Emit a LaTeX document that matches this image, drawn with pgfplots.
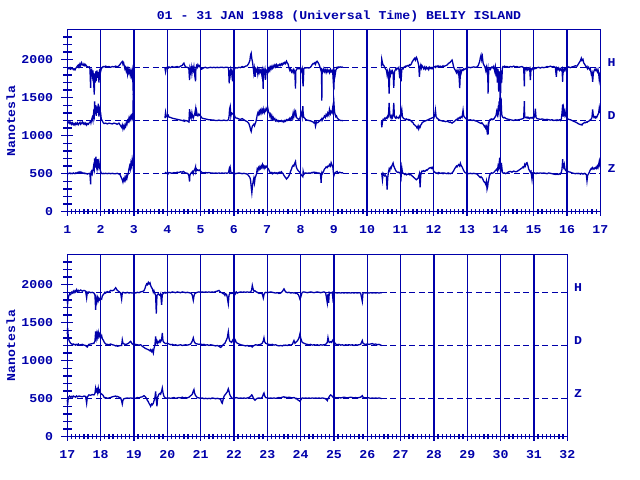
\documentclass[border=0pt]{standalone}
\usepackage{pgfplots}
\pgfplotsset{compat=1.18}
\usepackage{pgfplotstable}
\usepackage{fontspec}
\setmainfont{Liberation Mono}[FakeStretch=1.1]
\definecolor{ega}{RGB}{0,0,170}
\newcommand{\lab}{\fontsize{12bp}{14bp}\selectfont\bfseries}

\pgfplotstableread{
t H D Z
1.00 1885 1180 505
1.03 1890 1170 500
1.05 1880 1185 505
1.08 1895 1160 510
1.10 1875 1175 500
1.13 1885 1150 505
1.15 1890 1170 500
1.18 1870 1145 510
1.20 1880 1160 505
1.23 1865 1140 500
1.25 1885 1165 510
1.28 1900 1150 505
1.30 1915 1170 515
1.33 1930 1145 520
1.35 1905 1160 510
1.38 1945 1175 525
1.40 1920 1150 515
1.43 1960 1165 520
1.45 1935 1180 510
1.48 1925 1155 505
1.50 1945 1170 510
1.53 1920 1150 500
1.55 1935 1165 505
1.58 1915 1140 500
1.60 1910 1160 495
1.63 1900 1150 500
1.66 1905 1170 505
1.68 1880 1180 495
1.70 1630 1190 360
1.71 1860 1170 520
1.73 1870 1210 535
1.75 1790 1240 500
1.77 1860 1200 540
1.79 1700 1300 600
1.81 1540 1260 560
1.82 1820 1450 700
1.84 1700 1280 580
1.86 1850 1400 725
1.87 1720 1260 600
1.89 1860 1380 560
1.91 1760 1300 690
1.93 1840 1420 600
1.95 1700 1250 650
1.97 1860 1350 580
2.00 1840 1300 530
2.02 1880 1220 505
2.05 1900 1195 500
2.08 1910 1170 505
2.10 1905 1160 500
2.15 1915 1165 505
2.20 1905 1155 500
2.25 1910 1165 505
2.30 1900 1160 500
2.35 1910 1155 505
2.40 1905 1165 500
2.45 1915 1160 500
2.50 1905 1150 505
2.55 1920 1165 495
2.58 1935 1145 490
2.60 1950 1130 470
2.63 1965 1110 440
2.65 1975 1140 420
2.67 1940 1090 390
2.69 1960 1125 430
2.71 1920 1100 410
2.73 1880 1140 450
2.75 1900 1120 420
2.77 1850 1170 470
2.79 1880 1150 440
2.81 1810 1200 480
2.83 1870 1185 500
2.85 1830 1230 560
2.87 1860 1200 600
2.89 1800 1250 560
2.91 1850 1220 640
2.93 1790 1260 600
2.95 1850 1230 690
2.97 1700 1300 640
2.98 1540 1550 680
3.00 1800 1250 420
3.01 nan nan nan
3.93 1890 1230 510
3.95 1840 1305 515
3.97 1895 1250 505
4.00 1900 1260 510
4.03 1890 1270 500
4.05 1905 1245 515
4.10 1895 1240 510
4.15 1910 1230 505
4.20 1900 1225 515
4.25 1905 1220 510
4.30 1910 1215 520
4.35 1900 1210 515
4.40 1915 1205 525
4.45 1925 1200 520
4.48 1945 1195 530
4.50 1955 1205 525
4.52 1930 1190 515
4.55 1905 1200 510
4.60 1900 1195 505
4.63 1895 1185 495
4.65 1870 1180 470
4.67 1730 1350 395
4.68 1880 1240 480
4.70 1840 1280 500
4.72 1900 1240 510
4.74 1820 1300 520
4.76 1890 1250 530
4.78 1860 1230 500
4.80 1910 1260 540
4.83 1780 1300 560
4.85 1715 1350 590
4.86 1880 1260 530
4.88 1920 1320 560
4.90 1900 1270 545
4.92 1935 1260 550
4.95 1910 1285 540
4.98 1925 1265 550
5.00 1890 1260 535
5.03 1875 1240 520
5.05 1880 1230 515
5.10 1895 1225 510
5.15 1900 1220 515
5.20 1890 1215 510
5.25 1895 1210 515
5.30 1900 1210 510
5.35 1895 1205 510
5.40 1900 1205 505
5.45 1895 1200 510
5.50 1900 1200 505
5.55 1895 1205 510
5.60 1900 1200 505
5.65 1900 1200 510
5.70 1895 1205 505
5.75 1900 1200 510
5.80 1900 1200 505
5.84 1895 1210 515
5.86 1690 1270 560
5.87 1860 1350 540
5.89 1800 1385 580
5.91 1880 1260 520
5.93 1850 1300 515
5.96 1715 1290 510
5.98 1870 1280 505
6.00 1860 1300 500
6.03 1885 1250 505
6.05 1895 1235 500
6.10 1890 1230 505
6.15 1900 1220 510
6.20 1895 1215 505
6.25 1910 1225 500
6.30 1900 1210 505
6.35 1915 1195 500
6.40 1920 1185 495
6.43 1940 1170 480
6.45 1955 1160 470
6.48 1990 1120 450
6.50 2060 1080 420
6.52 2085 1055 330
6.54 2010 1100 250
6.56 1970 1130 340
6.58 1900 1140 400
6.60 1820 1150 440
6.62 1880 1130 380
6.64 1775 1160 450
6.66 1870 1180 470
6.68 1850 1220 500
6.70 1880 1270 560
6.72 1810 1300 540
6.74 1860 1280 580
6.76 1830 1320 560
6.78 1870 1290 590
6.80 1840 1330 570
6.82 1860 1300 600
6.84 1800 1340 580
6.86 1850 1310 620
6.88 1615 1350 590
6.89 1860 1320 600
6.91 1830 1300 570
6.93 1870 1340 595
6.95 1735 1325 580
6.97 1860 1360 600
7.00 1840 1330 585
7.02 1880 1360 570
7.04 1850 1310 560
7.06 1890 1300 540
7.08 1860 1260 520
7.10 1900 1280 510
7.12 1880 1230 505
7.14 1910 1260 515
7.16 1890 1220 500
7.18 1920 1240 510
7.20 1900 1210 505
7.23 1930 1225 515
7.25 1905 1195 505
7.28 1935 1210 510
7.30 1910 1190 500
7.33 1930 1200 515
7.35 1920 1185 505
7.38 1940 1195 520
7.40 1925 1190 510
7.43 1945 1200 525
7.45 1930 1185 510
7.48 1955 1195 500
7.50 1945 1180 480
7.53 1965 1200 460
7.55 1950 1190 450
7.58 1980 1210 430
7.60 1960 1200 440
7.63 1940 1215 455
7.65 1900 1205 470
7.68 1860 1230 500
7.70 1880 1210 530
7.73 1840 1240 560
7.75 1860 1220 590
7.78 1830 1300 610
7.80 1870 1250 600
7.83 1840 1320 640
7.85 1620 1280 660
7.86 1850 1300 620
7.88 1870 1240 580
7.90 1885 1230 560
7.93 1880 1220 540
7.95 1890 1215 530
7.98 1880 1225 520
8.00 1890 1260 500
8.03 1850 1300 480
8.05 1880 1250 470
8.07 1700 1390 460
8.08 1650 1300 530
8.10 1880 1240 490
8.13 1895 1230 505
8.15 1890 1215 510
8.20 1895 1205 505
8.25 1890 1200 510
8.30 1900 1195 505
8.33 1920 1190 515
8.35 1935 1185 510
8.38 1950 1180 520
8.40 1945 1170 515
8.43 1960 1185 520
8.45 1940 1125 510
8.48 1975 1180 515
8.50 1980 1170 510
8.53 1960 1175 505
8.55 1945 1185 510
8.58 1910 1195 505
8.60 1880 1205 500
8.62 1850 1215 380
8.63 1890 1210 490
8.64 1460 1220 510
8.65 1870 1200 495
8.68 1850 1225 520
8.70 1880 1240 540
8.72 1840 1260 560
8.75 1865 1240 575
8.77 1830 1280 590
8.80 1870 1260 580
8.82 1840 1300 600
8.85 1860 1270 595
8.87 1830 1345 620
8.90 1870 1290 600
8.92 1840 1320 645
8.95 1860 1300 610
8.97 1820 1380 590
9.00 1600 1455 470
9.02 1840 1320 500
9.04 1800 1280 510
9.06 1860 1250 520
9.08 1880 1260 525
9.10 1900 1235 530
9.12 1890 1225 515
9.15 1905 1210 510
9.18 1900 1205 520
9.20 1905 1200 515
9.25 1900 1200 510
9.28 1905 1195 515
9.30 nan nan nan
10.43 1910 1190 510
10.44 2005 1110 500
10.46 1960 1180 420
10.48 1930 1215 505
10.50 1925 1210 490
10.53 1900 1230 470
10.55 1880 1220 480
10.58 1860 1240 460
10.60 1800 1230 290
10.62 1850 1260 450
10.64 1820 1250 520
10.66 1555 1430 560
10.68 1840 1290 540
10.70 1800 1250 580
10.72 1850 1230 570
10.74 1830 1260 600
10.76 1850 1240 620
10.78 1820 1280 640
10.80 1630 1430 600
10.82 1840 1250 580
10.84 1860 1240 560
10.86 1880 1230 540
10.88 1870 1250 530
10.90 1890 1235 520
10.93 1880 1240 515
10.95 1895 1230 520
10.98 1755 1260 510
11.00 1880 1240 505
11.02 1716 1300 455
11.04 1870 1345 580
11.06 1890 1250 520
11.08 1880 1235 505
11.10 1900 1225 500
11.13 1905 1220 490
11.15 1915 1215 500
11.18 1910 1220 485
11.20 1920 1210 495
11.23 1925 1215 490
11.25 1915 1205 500
11.28 1935 1210 485
11.30 1930 1200 490
11.33 1945 1190 480
11.35 1970 1180 470
11.38 1990 1170 460
11.40 2005 1150 450
11.43 2020 1140 440
11.45 1995 1130 430
11.48 2030 1120 420
11.50 2010 1100 430
11.53 1960 1130 440
11.55 1920 1090 470
11.57 1775 1120 500
11.59 1900 1110 320
11.61 1930 1140 480
11.63 1890 1150 520
11.65 1920 1170 535
11.68 1900 1180 530
11.70 1880 1185 540
11.73 1905 1190 530
11.75 1875 1195 535
11.78 1900 1200 550
11.80 1880 1205 545
11.83 1895 1210 560
11.85 1870 1215 570
11.88 1900 1220 575
11.90 1885 1225 580
11.93 1895 1230 570
11.95 1880 1235 585
11.98 1900 1240 560
12.00 1905 1230 530
12.03 1910 1270 520
12.05 1900 1335 515
12.07 1915 1250 505
12.10 1905 1230 510
12.13 1920 1220 500
12.15 1910 1210 515
12.20 1915 1200 505
12.25 1905 1195 510
12.28 1920 1190 500
12.30 1910 1195 510
12.35 1920 1185 505
12.40 1930 1190 500
12.43 1945 1185 510
12.45 1955 1180 500
12.48 1960 1175 505
12.50 1970 1180 500
12.53 1985 1170 505
12.55 1995 1165 510
12.57 1960 1175 520
12.60 1900 1180 540
12.62 1880 1190 560
12.65 1860 1200 580
12.68 1830 1215 600
12.70 1860 1210 590
12.73 1820 1230 610
12.75 1850 1220 620
12.78 1625 1240 600
12.80 1850 1230 636
12.82 1820 1250 610
12.85 1870 1240 590
12.88 1860 1335 560
12.90 1880 1260 540
12.93 1870 1240 520
12.95 1880 1230 510
13.00 1895 1210 505
13.05 1900 1205 500
13.10 1895 1210 505
13.15 1900 1200 500
13.20 1905 1205 505
13.25 1900 1195 500
13.30 1905 1190 495
13.33 1920 1180 480
13.35 1940 1175 470
13.38 1980 1170 455
13.40 2030 1165 450
13.42 2060 1160 460
13.44 2000 1170 450
13.46 2040 1165 440
13.48 1960 1150 420
13.50 1935 1140 400
13.52 1920 1120 390
13.54 1900 1130 380
13.56 1860 1100 360
13.58 1900 1120 400
13.60 1840 1060 295
13.62 1880 1110 330
13.63 1555 1015 380
13.65 1860 1150 420
13.67 1880 1200 470
13.70 1870 1215 500
13.73 1900 1220 510
13.75 1905 1210 505
13.78 1890 1220 510
13.80 1910 1215 515
13.83 1850 1240 530
13.85 1900 1250 540
13.87 1780 1270 550
13.89 1890 1320 560
13.91 1700 1280 540
13.93 1880 1350 600
13.95 1580 1300 570
13.96 1850 1450 620
13.98 1600 1320 710
13.99 1840 1630 560
14.01 1560 1350 640
14.02 1860 1500 560
14.04 1700 1280 600
14.06 1890 1250 520
14.08 1910 1240 510
14.10 1905 1235 505
14.13 1915 1240 510
14.15 1905 1230 500
14.20 1910 1220 510
14.25 1900 1215 525
14.30 1910 1210 530
14.35 1905 1205 520
14.40 1915 1200 535
14.45 1905 1210 525
14.50 1910 1205 530
14.55 1900 1210 545
14.60 1905 1215 560
14.65 1910 1220 575
14.68 1900 1225 590
14.70 1895 1230 580
14.72 1650 1455 600
14.73 1880 1250 620
14.75 1870 1240 600
14.78 1890 1235 640
14.80 1860 1245 645
14.83 1880 1230 600
14.85 1870 1240 560
14.88 1890 1225 540
14.90 1730 1235 520
14.92 1880 1240 530
14.95 1870 1230 425
14.97 1890 1240 510
15.00 1885 1230 505
15.03 1880 1260 510
15.05 1890 1355 505
15.07 1885 1240 500
15.10 1895 1225 510
15.15 1900 1220 505
15.20 1890 1215 510
15.25 1900 1220 505
15.30 1895 1215 510
15.35 1900 1210 505
15.40 1910 1215 500
15.45 1905 1210 510
15.50 1915 1205 505
15.55 1905 1210 500
15.60 1910 1200 495
15.65 1900 1205 490
15.68 1775 1200 495
15.70 1890 1210 490
15.73 1870 1200 495
15.75 1890 1205 490
15.78 1860 1210 500
15.80 1880 1200 495
15.83 1860 1220 520
15.85 1880 1300 560
15.87 1710 1410 690
15.88 1870 1250 600
15.90 1850 1350 580
15.92 1880 1280 620
15.94 1860 1320 560
15.96 1890 1260 540
16.00 1895 1230 535
16.03 1900 1220 530
16.05 1905 1215 525
16.10 1895 1210 520
16.15 1905 1200 510
16.20 1910 1190 505
16.25 1920 1180 500
16.30 1915 1170 505
16.33 1935 1160 500
16.35 1950 1155 505
16.38 1970 1150 500
16.40 1985 1145 495
16.43 2020 1150 505
16.45 1990 1140 500
16.48 2005 1160 495
16.50 1960 1165 500
16.53 1940 1175 505
16.55 1925 1170 495
16.58 1900 1180 490
16.60 1910 1175 405
16.62 1880 1185 480
16.65 1900 1190 500
16.68 1870 1200 530
16.70 1880 1210 550
16.73 1810 1220 570
16.75 1830 1240 560
16.77 1710 1345 580
16.79 1820 1260 570
16.81 1850 1240 560
16.83 1870 1250 575
16.85 1860 1235 570
16.87 1880 1250 585
16.89 1860 1240 570
16.91 1840 1260 600
16.93 1870 1280 580
16.95 1820 1300 620
16.97 1730 1370 665
16.99 1790 1320 600
17.00 1840 1300 580
}\toptable

\pgfplotstableread{
t H D Z
17.00 1780 1350 485
17.01 1750 1430 420
17.02 1800 1380 470
17.03 1830 1300 510
17.05 1860 1270 525
17.07 1880 1250 535
17.10 1870 1230 520
17.13 1900 1220 530
17.15 1890 1215 520
17.18 1915 1220 535
17.20 1895 1210 525
17.23 1920 1215 530
17.25 1905 1205 520
17.28 1935 1215 535
17.30 1910 1210 525
17.33 1925 1220 530
17.35 1915 1205 535
17.40 1930 1210 530
17.45 1915 1215 525
17.50 1925 1205 535
17.55 1915 1200 530
17.58 1825 1185 440
17.60 1900 1180 520
17.63 1890 1205 540
17.65 1905 1215 550
17.70 1895 1220 545
17.75 1900 1225 555
17.80 1890 1230 550
17.83 1860 1260 570
17.85 1670 1385 640
17.87 1820 1300 600
17.89 1780 1360 620
17.91 1830 1310 580
17.93 1790 1370 640
17.95 1820 1320 590
17.97 1800 1350 610
18.00 1820 1300 570
18.03 1810 1330 560
18.05 1850 1290 555
18.08 1870 1270 540
18.10 1880 1250 520
18.13 1900 1230 510
18.15 1890 1220 515
18.20 1910 1215 505
18.25 1900 1210 510
18.30 1925 1220 515
18.35 1920 1210 525
18.40 1930 1205 530
18.45 1960 1195 535
18.48 1940 1200 525
18.50 1925 1190 530
18.55 1910 1195 520
18.60 1890 1200 510
18.63 1810 1200 470
18.65 1890 1275 430
18.67 1900 1230 480
18.70 1895 1220 500
18.75 1890 1215 505
18.80 1900 1220 510
18.85 1890 1235 505
18.90 1895 1255 510
18.95 1890 1220 505
19.00 1895 1210 510
19.05 1890 1215 505
19.10 1900 1210 515
19.15 1895 1205 510
19.20 1905 1210 520
19.25 1910 1190 525
19.30 1920 1175 540
19.33 1950 1165 530
19.35 1980 1160 520
19.38 2010 1155 500
19.40 2000 1150 480
19.43 2030 1145 460
19.45 2010 1140 440
19.48 2025 1130 420
19.50 1990 1145 400
19.53 1960 1120 430
19.55 1950 1140 420
19.58 1900 1100 440
19.60 1920 1160 470
19.63 1880 1210 520
19.65 1860 1320 595
19.67 1620 1240 480
19.69 1860 1260 400
19.71 1870 1230 520
19.73 1880 1250 540
19.75 1870 1240 560
19.78 1860 1270 570
19.80 1880 1250 560
19.83 1735 1280 600
19.85 1870 1365 640
19.87 1880 1260 580
19.90 1890 1240 530
19.93 1900 1230 515
19.95 1890 1225 510
20.00 1895 1230 505
20.05 1900 1220 510
20.10 1895 1210 505
20.15 1905 1215 510
20.20 1900 1205 515
20.25 1895 1210 505
20.30 1905 1200 510
20.35 1900 1205 515
20.40 1895 1210 510
20.45 1905 1200 520
20.50 1900 1205 510
20.55 1895 1210 515
20.60 1900 1205 510
20.65 1895 1210 520
20.70 1890 1220 540
20.73 1880 1240 550
20.75 1860 1260 560
20.78 1794 1300 600
20.80 1850 1260 620
20.82 1880 1240 570
20.85 1890 1225 540
20.90 1900 1220 515
20.95 1905 1215 510
21.00 1900 1220 505
21.05 1905 1210 510
21.10 1900 1215 500
21.15 1905 1205 505
21.20 1900 1210 500
21.25 1905 1200 505
21.30 1900 1210 500
21.35 1905 1205 510
21.40 1900 1200 505
21.45 1910 1195 500
21.50 1915 1200 505
21.55 1925 1190 500
21.58 1910 1180 495
21.60 1900 1175 490
21.63 1895 1185 450
21.65 1890 1200 440
21.68 1880 1210 500
21.70 1885 1220 530
21.73 1860 1230 550
21.75 1880 1250 560
21.78 1870 1280 580
21.80 1830 1300 590
21.83 1750 1380 630
21.85 1860 1300 600
21.87 1880 1260 560
21.90 1890 1250 530
21.93 1885 1240 515
21.95 1890 1260 505
22.00 1880 1300 500
22.02 1900 1250 515
22.04 1880 1270 510
22.07 1905 1240 515
22.10 1890 1230 510
22.15 1900 1220 505
22.20 1905 1210 510
22.25 1900 1205 505
22.30 1905 1200 510
22.35 1900 1195 505
22.40 1905 1200 510
22.45 1900 1190 515
22.50 1905 1195 530
22.53 1930 1185 550
22.55 1990 1180 545
22.57 1950 1190 520
22.60 1915 1200 495
22.63 1920 1205 480
22.65 1910 1210 490
22.70 1900 1205 505
22.75 1885 1210 510
22.80 1890 1215 505
22.85 1880 1230 520
22.88 1825 1260 560
22.90 1870 1300 575
22.92 1890 1250 540
22.95 1900 1230 515
23.00 1895 1220 510
23.05 1900 1215 505
23.10 1905 1210 510
23.15 1900 1215 505
23.20 1895 1205 510
23.25 1890 1210 505
23.30 1895 1200 510
23.35 1885 1195 515
23.40 1890 1200 510
23.45 1910 1195 520
23.50 1945 1205 525
23.53 1920 1200 515
23.55 1905 1205 520
23.60 1895 1200 515
23.65 1900 1210 520
23.70 1890 1205 515
23.75 1895 1215 510
23.80 1890 1265 515
23.83 1895 1230 510
23.85 1885 1240 500
23.88 1890 1250 505
23.90 1880 1260 490
23.93 1870 1280 480
23.95 1850 1300 475
23.98 1810 1355 465
24.00 1830 1300 480
24.03 1880 1260 505
24.05 1900 1240 510
24.10 1905 1230 505
24.15 1900 1220 510
24.20 1895 1215 505
24.25 1900 1210 510
24.30 1905 1215 505
24.35 1900 1205 510
24.40 1895 1210 505
24.45 1900 1205 510
24.50 1905 1210 505
24.55 1900 1200 510
24.60 1895 1210 505
24.65 1900 1205 510
24.70 1905 1210 505
24.75 1895 1215 500
24.80 1760 1240 475
24.82 1880 1305 500
24.84 1760 1260 510
24.86 1900 1240 530
24.90 1890 1250 550
24.93 1895 1240 540
24.95 1900 1260 530
24.98 1760 1280 515
25.00 1890 1250 510
25.05 1895 1220 515
25.10 1890 1210 510
25.15 1895 1215 515
25.20 1890 1205 510
25.25 1895 1210 515
25.30 1890 1200 520
25.35 1895 1210 515
25.40 1890 1205 510
25.45 1895 1210 515
25.50 1890 1205 520
25.55 1895 1210 515
25.60 1890 1200 510
25.65 1895 1210 515
25.70 1890 1205 510
25.75 1895 1210 515
25.80 1890 1215 520
25.85 1780 1265 540
25.87 1890 1230 520
25.90 1895 1220 515
25.95 1890 1215 510
26.00 1895 1220 515
26.05 1890 1215 510
26.10 1895 1220 505
26.15 1890 1225 510
26.20 1895 1215 505
26.25 1890 1220 510
26.30 1895 1210 505
26.35 1890 1215 510
26.40 1895 1205 505
26.43 1890 1200 500
}\bottable

\pgfplotsset{
  magbase/.style={
    scale only axis, height=182.4bp,
    ymin=0, ymax=2400,
    axis line style={ega, line width=1.3bp},
    tick style={ega, line width=1.3bp},
    tick align=center,
    ticklabel style={font=\lab, text=ega},
    /pgf/number format/assume math mode=true,
    /pgf/number format/1000 sep={},
    clip=false,
  },
  magx/.style={
    magbase,
    ytick=\empty,
    xtick distance=1,
    minor x tick num=7,
    xtick pos=bottom,
    major tick length=8bp, minor tick length=5bp,
    xmajorgrids, major grid style={ega, line width=1.3bp},
    xticklabel style={anchor=north, inner sep=0pt, yshift=-10bp},
    unbounded coords=jump,
  },
  magy/.style={
    magbase,
    hide x axis,
    ytick={0,500,1000,1500,2000},
    minor ytick={100,200,300,400,600,700,800,900,1100,1200,1300,1400,1600,1700,1800,1900,2100,2200,2300},
    ytick pos=left,
    major tick length=12bp, minor tick length=8.5bp,
    yticklabel style={anchor=east, inner sep=0pt, xshift=-8bp},
  },
  trace/.style={ega, line width=1.3bp, no marks},
  base/.style={ega, line width=1.3bp, dash pattern=on 6bp off 3.5bp},
}

\begin{document}
\begin{tikzpicture}[x=1bp,y=1bp]
\path (0,0) rectangle (640,480);
\node[font=\lab, text=ega] at (339,464) {01 - 31 JAN 1988 (Universal Time) BELIY ISLAND};
\node[font=\lab, text=ega, rotate=90] at (10.8,359) {Nanotesla};
\node[font=\lab, text=ega, rotate=90] at (10.8,134.5) {Nanotesla};

% top panel
\begin{axis}[magx, at={(67.3bp,268.3bp)}, anchor=south west, width=533bp, xmin=1, xmax=17]
\addplot[base] coordinates {(1,1900) (17,1900)};
\addplot[base] coordinates {(1,1200) (17,1200)};
\addplot[base] coordinates {(1,500) (17,500)};
\addplot[trace] table[x=t, y=H] {\toptable};
\addplot[trace] table[x=t, y=D] {\toptable};
\addplot[trace] table[x=t, y=Z] {\toptable};
\node[font=\lab, text=ega] at (axis cs:17.34,1965) {H};
\node[font=\lab, text=ega] at (axis cs:17.34,1265) {D};
\node[font=\lab, text=ega] at (axis cs:17.34,565) {Z};
\end{axis}
\begin{axis}[magy, at={(67.3bp,268.3bp)}, anchor=south west, width=533bp, xmin=1, xmax=17]
\end{axis}

% bottom panel
\begin{axis}[magx, at={(67.3bp,43.3bp)}, anchor=south west, width=500bp, xmin=17, xmax=32]
\addplot[base] coordinates {(17,1900) (32,1900)};
\addplot[base] coordinates {(17,1200) (32,1200)};
\addplot[base] coordinates {(17,500) (32,500)};
\addplot[trace] table[x=t, y=H] {\bottable};
\addplot[trace] table[x=t, y=D] {\bottable};
\addplot[trace] table[x=t, y=Z] {\bottable};
\node[font=\lab, text=ega] at (axis cs:32.32,1965) {H};
\node[font=\lab, text=ega] at (axis cs:32.32,1265) {D};
\node[font=\lab, text=ega] at (axis cs:32.32,565) {Z};
\end{axis}
\begin{axis}[magy, at={(67.3bp,43.3bp)}, anchor=south west, width=500bp, xmin=17, xmax=32]
\end{axis}
\end{tikzpicture}
\end{document}
